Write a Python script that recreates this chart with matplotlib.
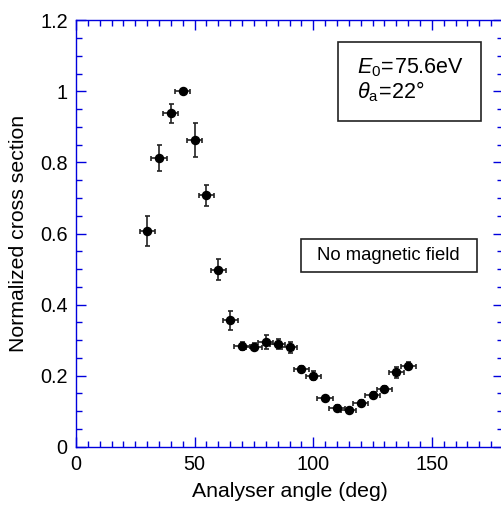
import matplotlib
matplotlib.use('Agg')
import matplotlib.pyplot as plt
from matplotlib.patches import Rectangle
from matplotlib.ticker import MultipleLocator

plt.rcParams['font.family'] = ['Liberation Sans', 'DejaVu Sans']
plt.rcParams['mathtext.fontset'] = 'custom'
plt.rcParams['mathtext.rm'] = 'Liberation Sans'
plt.rcParams['mathtext.it'] = 'Liberation Sans:italic'

# measured angular distribution, no magnetic field
angle = [30, 35, 40, 45, 50, 55, 60, 65, 70, 75, 80, 85, 90,
         95, 100, 105, 110, 115, 120, 125, 130, 135, 140]
cross = [0.607, 0.813, 0.938, 1.0, 0.862, 0.707, 0.498, 0.356, 0.284, 0.281, 0.294, 0.289, 0.280,
         0.220, 0.200, 0.136, 0.110, 0.103, 0.124, 0.146, 0.163, 0.209, 0.228]
cross_err = [0.041, 0.037, 0.027, 0.006, 0.048, 0.030, 0.029, 0.027, 0.012, 0.010, 0.019, 0.015, 0.016,
             0.008, 0.012, 0.008, 0.006, 0.006, 0.007, 0.008, 0.009, 0.015, 0.009]
angle_err = 3.2

fig = plt.figure(figsize=(5.01, 5.05), dpi=100)
ax = fig.add_axes([76/501, 1-446.7/505, 427/501, 426.4/505])

ax.errorbar(angle, cross, yerr=cross_err, xerr=angle_err, fmt='o', color='black',
            ms=5.8, elinewidth=1.2, capsize=1.8, capthick=1.2, ecolor='#222222')

ax.set_xlim(0, 180)
ax.set_ylim(0, 1.2)
ax.xaxis.set_major_locator(MultipleLocator(50))
ax.xaxis.set_minor_locator(MultipleLocator(5))
ax.yaxis.set_minor_locator(MultipleLocator(0.05))
ax.set_yticks([0, 0.2, 0.4, 0.6, 0.8, 1.0, 1.2], ['0', '0.2', '0.4', '0.6', '0.8', '1', '1.2'])

for s in ax.spines.values():
    s.set_color('#0000dd')
    s.set_linewidth(1.0)
ax.tick_params(which='both', direction='in', top=True, right=True, color='#0000dd',
               labelsize=14.3, pad=6)
ax.tick_params(which='major', length=7, width=1.0)
ax.tick_params(which='minor', length=4, width=1.0)

ax.set_xlabel('Analyser angle (deg)', fontsize=15.3, labelpad=6)
ax.set_ylabel('Normalized cross section', fontsize=15.3, labelpad=9)

# parameter box
ax.add_patch(Rectangle((0.614, 0.764), 0.335, 0.185, transform=ax.transAxes,
                       fc='white', ec='#222222', lw=1.2, zorder=3))
ax.text(0.657, 0.876, r'$E_0\!=\!$75.6eV', transform=ax.transAxes,
        fontsize=15.5, va='baseline', ha='left', zorder=4)
ax.text(0.657, 0.818, r'$\theta_\mathrm{a}\!=\!$22°', transform=ax.transAxes,
        fontsize=15.5, va='baseline', ha='left', zorder=4)

# field condition label
ax.add_patch(Rectangle((0.526, 0.410), 0.412, 0.076, transform=ax.transAxes,
                       fc='white', ec='#222222', lw=1.2, zorder=3))
ax.text(0.732, 0.449, 'No magnetic field', transform=ax.transAxes, fontsize=13.3,
        va='center', ha='center', zorder=4)

fig.savefig('out.png', dpi=100)
